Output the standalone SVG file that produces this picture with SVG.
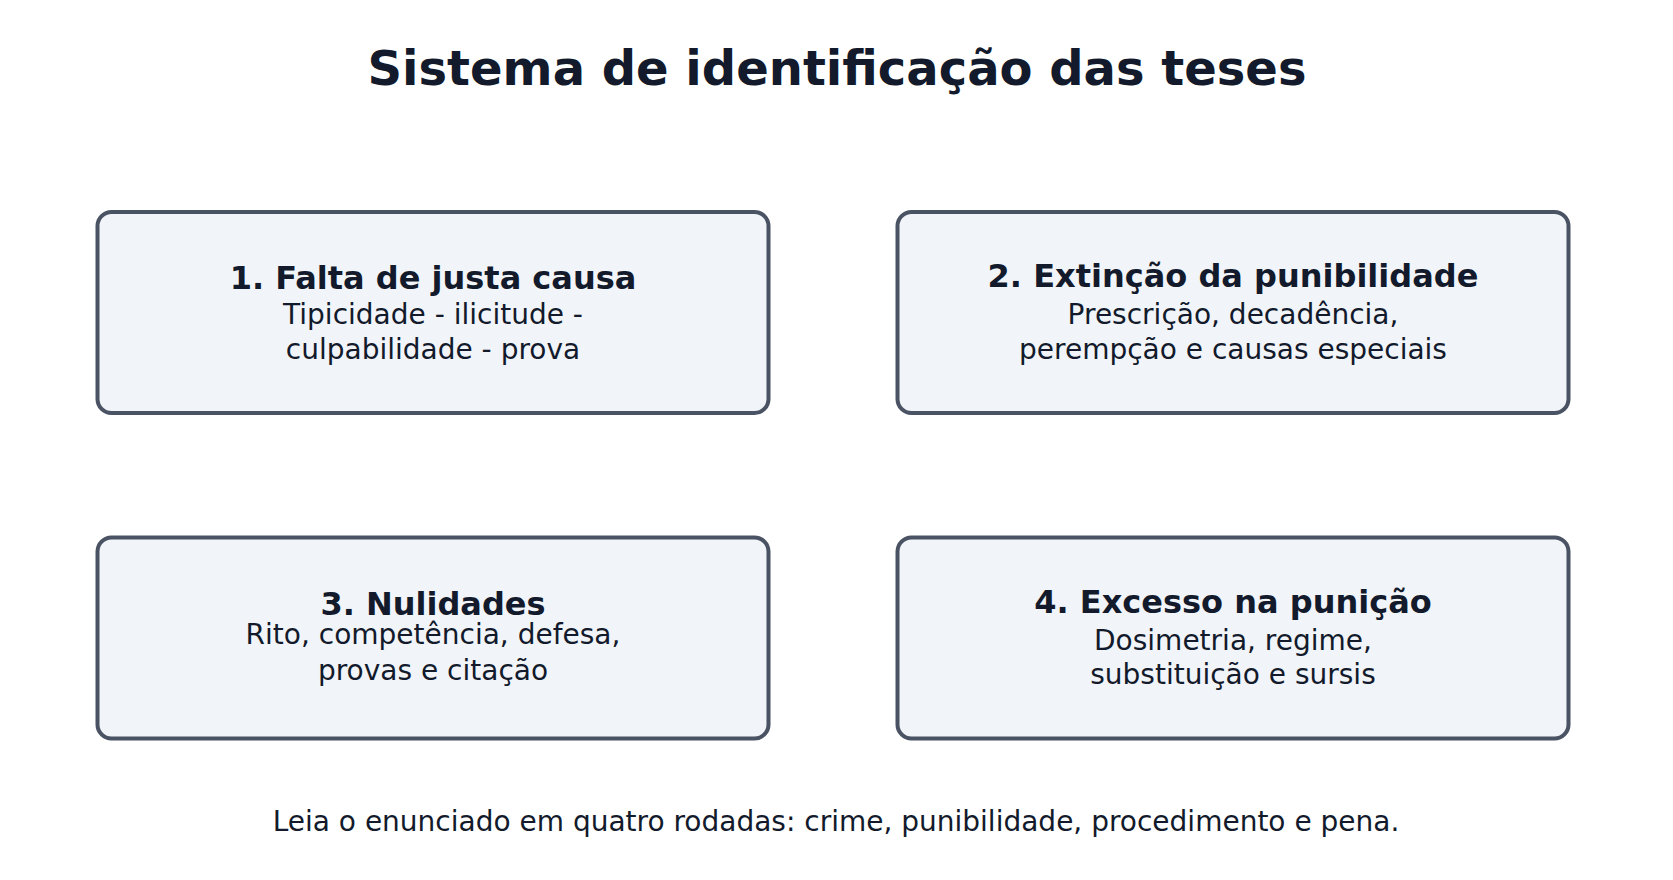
<svg xmlns="http://www.w3.org/2000/svg" width="1673" height="880" viewBox="0 0 1673 880">
<style>
.bg{fill:#ffffff}
.box{fill:#f1f4f9;stroke:#4a5363;stroke-width:4}
.title{font-family:"DejaVu Sans",sans-serif;font-weight:bold;font-size:48px;fill:#121a2b;text-anchor:middle}
.h{font-family:"DejaVu Sans",sans-serif;font-weight:bold;font-size:32px;fill:#121a2b;text-anchor:middle}
.s{font-family:"DejaVu Sans",sans-serif;font-size:28px;fill:#121a2b;text-anchor:middle}
</style>
<rect class="bg" x="0" y="0" width="1673" height="880"/>
<text class="title" x="837" y="85">Sistema de identificação das teses</text>
<g id="connectors"></g>
<g id="node1">
<rect class="box" x="97.5" y="212" width="671" height="201" rx="14"/>
<text class="h" x="433" y="289">1. Falta de justa causa</text>
<text class="s" x="433" y="324">Tipicidade - ilicitude -</text>
<text class="s" x="433" y="359">culpabilidade - prova</text>
</g>
<g id="node2">
<rect class="box" x="897.5" y="212" width="671" height="201" rx="14"/>
<text class="h" x="1233" y="287">2. Extinção da punibilidade</text>
<text class="s" x="1233" y="324">Prescrição, decadência,</text>
<text class="s" x="1233" y="359">perempção e causas especiais</text>
</g>
<g id="node3">
<rect class="box" x="97.5" y="537.5" width="671" height="201" rx="14"/>
<text class="h" x="433" y="615">3. Nulidades</text>
<text class="s" x="433" y="644">Rito, competência, defesa,</text>
<text class="s" x="433" y="680">provas e citação</text>
</g>
<g id="node4">
<rect class="box" x="897.5" y="537.5" width="671" height="201" rx="14"/>
<text class="h" x="1233" y="613">4. Excesso na punição</text>
<text class="s" x="1233" y="650">Dosimetria, regime,</text>
<text class="s" x="1233" y="684">substituição e sursis</text>
</g>
<text class="s" x="836" y="831">Leia o enunciado em quatro rodadas: crime, punibilidade, procedimento e pena.</text>
</svg>
